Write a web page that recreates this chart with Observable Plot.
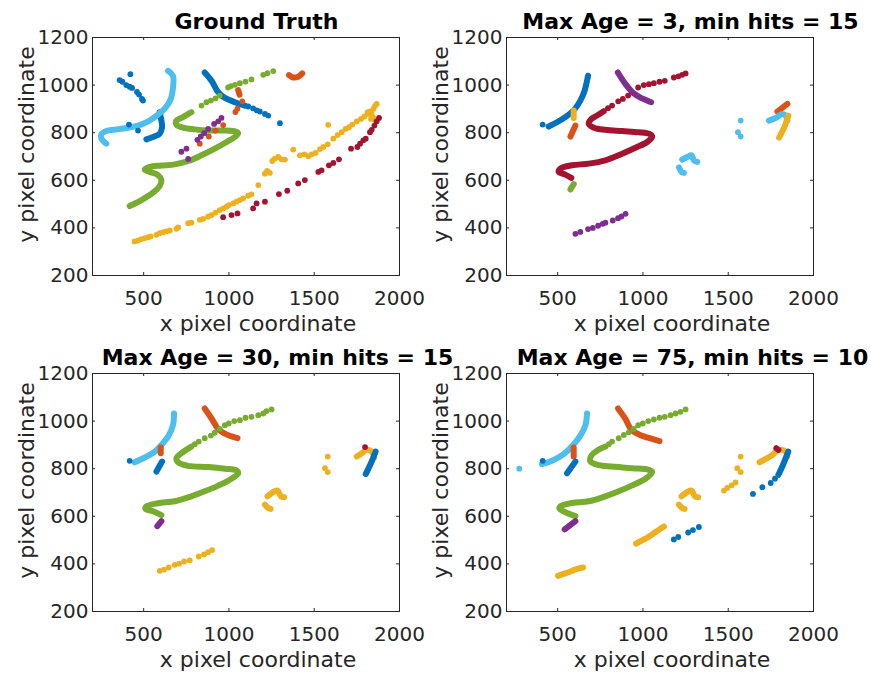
<!DOCTYPE html>
<html>
<head>
<meta charset="utf-8">
<script src="https://cdn.jsdelivr.net/npm/d3@7"></script>
<script src="https://cdn.jsdelivr.net/npm/@observablehq/plot@0.6"></script>
<style>
  html, body { margin: 0; padding: 0; background: #ffffff; }
  #fig { position: relative; width: 871px; height: 673px; background: #ffffff; overflow: hidden; }
  #fig > div { position: absolute; }
  svg { overflow: visible; }
</style>
</head>
<body>
<div id="fig"></div>
<script>
// ---------- data ----------
const seriesNames = ["track1", "track2", "track3", "track4", "track5", "track6", "track7"];
const seriesColors = ["#0072BD", "#D95319", "#EDB120", "#7E2F8E", "#77AC30", "#4DBEEE", "#A2142F"];
const xTicks = [500, 1000, 1500, 2000];
const yTicks = [200, 400, 600, 800, 1000, 1200];
const panelTitles = ["Ground Truth", "Max Age = 3, min hits = 15", "Max Age = 30, min hits = 15", "Max Age = 75, min hits = 10"];
const xLabel = "x pixel coordinate";
const yLabel = "y pixel coordinate";

// track1 blue, track2 orange, track3 yellow, track4 purple, track5 green, track6 light blue, track7 dark red

// Ground truth: continuous traces and separate detections
const gtTraces = [
  ["track1", [[594,886],[604,851],[608,823],[594,796],[555,782],[516,772]]],
  ["track1", [[858,1053],[898,1018],[937,970],[966,951],[1035,928],[1093,914]]],
  ["track6", [[643,1060],[672,1039],[672,990],[659,942],[627,904],[584,876],[526,848],[467,830],[408,821],[340,814],[281,807],[252,793],[252,775],[281,754]]],
  ["track5", [[418,492],[487,517],[555,548],[594,576],[604,601],[584,622],[535,635],[506,645],[535,656],[604,662],[682,667],[761,681],[839,705],[917,733],[986,761],[1038,784],[1054,798],[1025,807],[956,809],[878,809],[800,814],[731,821],[692,834],[692,851],[721,862],[750,874],[780,886]]],
  ["track2", [[1352,1042],[1377,1032],[1406,1035],[1430,1049]]],
  ["track2", [[1054,979],[1062,960]]]
];
const gtDots = [
  ["track1", [[359,1021],[375,1014],[422,1046],[398,1000],[418,993],[432,988],[461,971],[473,960],[490,942],[496,935],[414,834],[467,809],[1113,910],[1142,902],[1162,894],[1181,889],[1211,879],[1230,872],[1299,840]]],
  ["track5", [[839,914],[868,928],[894,935],[921,944],[946,956],[995,990],[1011,996],[1035,1001],[1064,1008],[1097,1015],[1132,1024],[1201,1043],[1226,1050],[1260,1059]]],
  ["track2", [[1078,932],[1050,901],[1038,887],[966,832],[921,809],[882,784],[829,754]]],
  ["track4", [[956,862],[937,848],[913,837],[878,816],[855,798],[835,784],[815,770],[751,733],[721,720],[761,690]]],
  ["track3", [[447,343],[467,347],[487,353],[506,357],[526,361],[541,364],[575,371],[594,378],[614,382],[633,385],[653,389],[692,396],[702,402],[761,420],[780,422],[829,434],[849,438],[878,447],[898,454],[921,464],[946,475],[966,482],[986,489],[999,496],[1025,503],[1044,510],[1064,517],[1083,524],[1113,535],[1132,541],[1172,580],[1211,628],[1224,640],[1240,631],[1254,681],[1269,691],[1289,698],[1309,688],[1328,687],[1377,729],[1416,705],[1442,709],[1465,701],[1485,709],[1508,715],[1534,731],[1553,740],[1579,751],[1582,833],[1612,775],[1637,790],[1661,802],[1684,816],[1704,823],[1723,834],[1749,847],[1774,858],[1794,868],[1813,879],[1827,889],[1847,900],[1856,912],[1866,921],[1813,886],[1837,879],[1847,862],[1860,851],[1833,858]]],
  ["track7", [[966,445],[1015,454],[1050,461],[1142,482],[1162,503],[1211,510],[1293,542],[1342,556],[1406,587],[1445,601],[1524,635],[1543,642],[1586,663],[1612,673],[1645,688],[1716,733],[1753,740],[1769,754],[1788,768],[1802,775],[1827,802],[1837,812],[1853,830],[1866,848],[1880,862]]]
];

// Max Age = 3, min hits = 15
const age3Traces = [
  ["track1", [[447,826],[506,848],[555,871],[600,899],[633,935],[657,974],[672,1018],[678,1039]]],
  ["track3", [[594,893],[594,862]]],
  ["track2", [[604,830],[575,784]]],
  ["track4", [[853,1053],[898,1004],[946,965],[995,944],[1048,928]]],
  ["track7", [[770,890],[731,872],[698,858],[682,837],[712,821],[780,812],[878,807],[976,802],[1038,795],[1054,784],[1025,761],[956,737],[878,712],[780,684],[682,670],[584,663],[516,649],[506,635],[545,624],[580,610]]],
  ["track5", [[594,584],[575,562]]],
  ["track6", [[1211,654],[1226,635],[1240,631]]],
  ["track6", [[1230,687],[1260,698],[1285,705],[1299,684],[1318,677]]],
  ["track2", [[1788,889],[1847,921]]],
  ["track6", [[1739,851],[1778,862],[1817,879],[1837,872],[1847,851]]],
  ["track3", [[1852,872],[1833,830],[1798,779]]]
];
const age3Dots = [
  ["track1", [[412,834]]],
  ["track7", [[1250,1049],[1230,1043],[1208,1037],[1181,1032],[1128,1018],[1097,1014],[1064,1008],[1035,1004],[1005,1000],[972,990],[913,956],[882,942],[855,932],[819,914],[795,903]]],
  ["track4", [[604,375],[633,383],[678,395],[706,400],[737,409],[764,417],[780,422],[823,431],[854,441],[874,448],[898,459]]],
  ["track6", [[1573,851],[1557,802],[1573,784]]]
];

// Max Age = 30, min hits = 15
const age30Traces = [
  ["track6", [[447,827],[506,847],[565,872],[608,903],[647,939],[672,983],[678,1032]]],
  ["track2", [[600,889],[600,865]]],
  ["track1", [[608,830],[575,788]]],
  ["track2", [[858,1053],[898,1011],[937,967],[976,947],[1050,928]]],
  ["track5", [[780,893],[721,865],[692,844],[702,827],[761,812],[878,807],[976,800],[1044,793],[1054,781],[1015,758],[937,729],[858,705],[780,684],[682,663],[584,655],[516,642],[510,632],[555,621],[604,605]]],
  ["track4", [[604,580],[580,559]]],
  ["track3", [[1211,649],[1230,635],[1244,631]]],
  ["track3", [[1226,684],[1260,702],[1285,708],[1305,684],[1324,680]]],
  ["track3", [[1749,851],[1778,865],[1808,879],[1837,872],[1852,847]]],
  ["track1", [[1860,872],[1837,830],[1802,777]]]
];
const age30Dots = [
  ["track1", [[418,833]]],
  ["track5", [[1250,1049],[1220,1042],[1201,1032],[1172,1025],[1132,1018],[1097,1014],[1064,1004],[1031,1000],[999,990],[976,983],[946,967],[917,951],[894,939],[858,928],[823,914],[800,903]]],
  ["track3", [[594,371],[620,376],[647,385],[682,396],[708,401],[737,410],[770,415],[823,431],[854,440],[878,449],[901,458]]],
  ["track3", [[1579,851],[1563,802],[1579,786]]],
  ["track7", [[1798,891]]]
];

// Max Age = 75, min hits = 10
const age75Traces = [
  ["track6", [[408,819],[467,833],[535,861],[588,897],[633,939],[663,983],[672,1032]]],
  ["track2", [[594,889],[594,851]]],
  ["track1", [[604,830],[555,781]]],
  ["track2", [[854,1053],[898,1008],[933,962],[976,944],[1054,925],[1097,916]]],
  ["track5", [[780,893],[731,876],[698,856],[692,830],[741,815],[819,809],[937,802],[1035,795],[1054,786],[1015,758],[937,730],[858,705],[780,684],[682,663],[584,656],[516,642],[510,633],[555,614],[604,601]]],
  ["track4", [[604,580],[541,545]]],
  ["track3", [[502,350],[530,357],[565,365],[594,374],[624,381],[649,385]]],
  ["track3", [[960,485],[995,499],[1025,510],[1054,524],[1083,538],[1123,557]]],
  ["track3", [[1211,649],[1230,635],[1244,631]]],
  ["track3", [[1226,684],[1260,702],[1285,708],[1305,684],[1324,680]]],
  ["track3", [[1684,827],[1720,841],[1759,858],[1798,879],[1837,872],[1847,851]]],
  ["track7", [[1782,886],[1794,879]]],
  ["track1", [[1852,872],[1833,837],[1817,809],[1794,774]]]
];
const age75Dots = [
  ["track6", [[275,800]]],
  ["track1", [[412,833],[1181,503],[1207,513],[1265,532],[1293,542],[1328,555],[1774,758],[1749,740],[1700,722],[1645,694]]],
  ["track5", [[1250,1049],[1220,1039],[1191,1032],[1162,1025],[1128,1018],[1097,1014],[1064,1007],[1031,1000],[999,990],[972,983],[946,967],[917,953],[888,942],[858,928],[819,914],[800,903]]],
  ["track3", [[1475,708],[1494,719],[1520,730],[1543,742],[1573,851],[1553,802],[1573,786]]]
];

// ---------- drawing ----------
const toRows = (tracks) => tracks.flatMap(([s, pts], k) => pts.map(([x, y]) => ({s, k, x, y})));

const W = 430, H = 340, ML = 92, MR = 31, MT = 37, MB = 65;
const innerW = W - ML - MR, innerH = H - MT - MB;
const tick = 3;
const ink = "#262626";

function panel(title, traces, dots, titleDx) {
  return Plot.plot({
    width: W, height: H,
    marginLeft: ML, marginRight: MR, marginTop: MT, marginBottom: MB,
    x: {domain: [200, 2000]},
    y: {domain: [200, 1200]},
    color: {type: "ordinal", domain: seriesNames, range: seriesColors},
    style: {fontFamily: "DejaVu Sans", fontSize: "20px", color: ink, background: "transparent", overflow: "visible"},
    marks: [
      Plot.line(toRows(traces), {x: "x", y: "y", z: "k", stroke: "s", strokeWidth: 6, strokeLinecap: "round", strokeLinejoin: "round", curve: "catmull-rom"}),
      Plot.dot(toRows(dots), {x: "x", y: "y", r: 2.9, fill: "s", stroke: null}),
      Plot.frame({stroke: ink, strokeWidth: 1}),
      Plot.ruleX(xTicks, {x: d => d, insetTop: innerH - tick, stroke: ink}),
      Plot.ruleX(xTicks, {x: d => d, insetBottom: innerH - tick, stroke: ink}),
      Plot.ruleY(yTicks, {y: d => d, insetRight: innerW - tick, stroke: ink}),
      Plot.ruleY(yTicks, {y: d => d, insetLeft: innerW - tick, stroke: ink}),
      Plot.axisX({ticks: xTicks, tickSize: 0, tickPadding: 15, tickFormat: d => String(d), label: null, fill: ink}),
      Plot.axisY({ticks: yTicks, tickSize: 0, tickPadding: 4, tickFormat: d => String(d), label: null, fill: ink}),
      Plot.text([title], {frameAnchor: "top", dy: -9, dx: titleDx, lineAnchor: "bottom", textAnchor: "middle", fontWeight: "bold", fontSize: 22, fill: "#000000"}),
      Plot.text([xLabel], {frameAnchor: "bottom", dy: 55, dx: 12, lineAnchor: "bottom", textAnchor: "middle", fontSize: 22, fill: ink}),
      Plot.text([yLabel], {frameAnchor: "left", rotate: -90, dx: -59, dy: -12, lineAnchor: "bottom", textAnchor: "middle", fontSize: 22, fill: ink})
    ]
  });
}

const fig = document.getElementById("fig");
const specs = [
  [panelTitles[0], gtTraces, gtDots, 10.5, 0, 0],
  [panelTitles[1], age3Traces, age3Dots, 30.5, 414, 0],
  [panelTitles[2], age30Traces, age30Dots, 31.5, 0, 336],
  [panelTitles[3], age75Traces, age75Dots, 32.5, 414, 336]
];
for (const [t, tr, dt, tdx, left, top] of specs) {
  const holder = document.createElement("div");
  holder.style.left = left + "px";
  holder.style.top = top + "px";
  holder.appendChild(panel(t, tr, dt, tdx));
  fig.appendChild(holder);
}
</script>
</body>
</html>
